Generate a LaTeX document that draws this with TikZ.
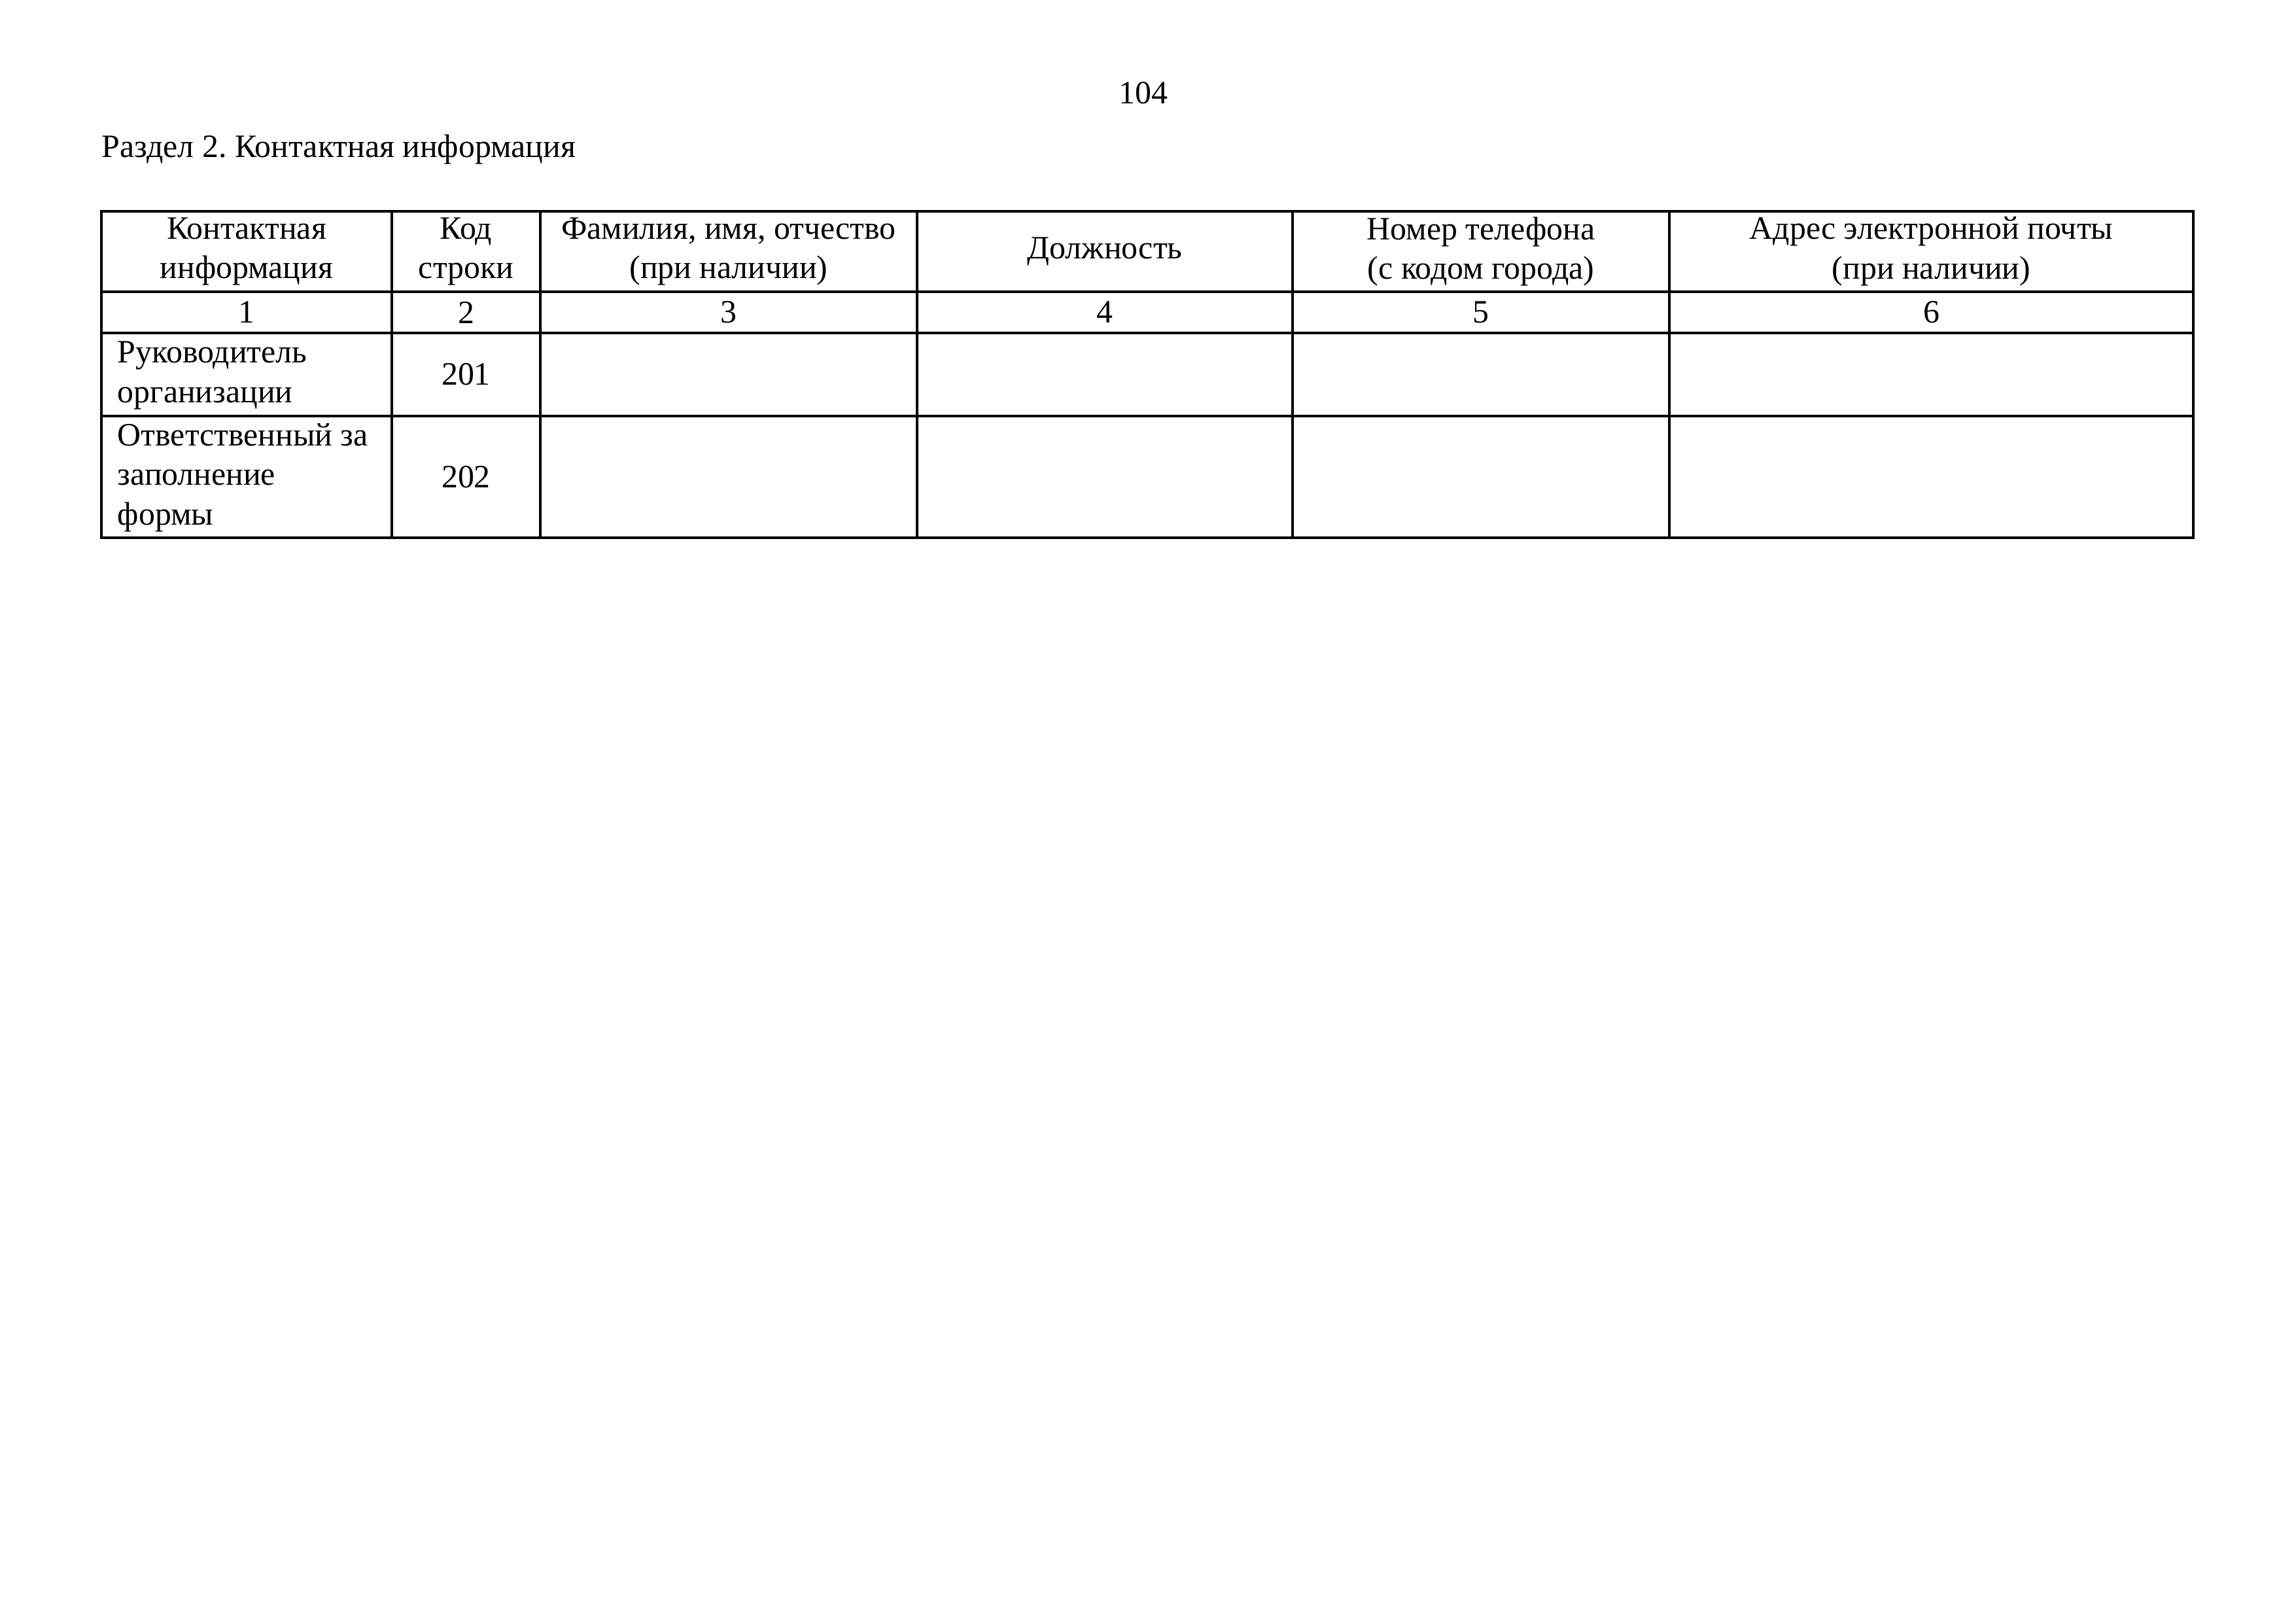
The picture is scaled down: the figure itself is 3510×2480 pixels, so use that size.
\documentclass[tikz,border=0pt]{standalone}
\usepackage{fontspec}
\setmainfont{Liberation Serif}
\frenchspacing
\tikzset{
	rule/.style={line width=0.8pt},
	txt/.style={inner sep=0pt, font=\fontsize{12pt}{14.6pt}\selectfont},
	head/.style={txt, align=center},
	rowname/.style={txt, align=left, anchor=west},
}

\begin{document}
\begin{tikzpicture}[x=0.084615mm, y=-0.084615mm]
	\useasboundingbox (0,0) rectangle (3510,2480);

	\node[txt, anchor=base] (page) at (1748,158) {104};
	\node[txt, anchor=base west] (title) at (155,240) {Раздел 2. Контактная информация};

	\draw[rule] (155,323) rectangle (3353,822);
	\draw[rule] (155,446) -- (3353,446);
	\draw[rule] (155,509) -- (3353,509);
	\draw[rule] (155,636) -- (3353,636);
	\foreach \x in {599,826,1402,1976,2552}
		\draw[rule] (\x,323) -- (\x,822);

	\node[head] (kontakt) at (377,384.5) {Контактная\\информация};
	\node[head] (kod) at (712.5,384.5) {Код\\строки};
	\node[head] (fio) at (1114,384.5) {Фамилия, имя, отчество\\(при наличии)};
	\node[head] (dolzh) at (1689,384.5) {Должность};
	\node[head] (tel) at (2264,384.5) {Номер телефона\\(с кодом города)};
	\node[head] (email) at (2952.5,384.5) {Адрес электронной почты\\(при наличии)};

	\node[head] (n1) at (377,477.5) {1};
	\node[head] (n2) at (712.5,477.5) {2};
	\node[head] (n3) at (1114,477.5) {3};
	\node[head] (n4) at (1689,477.5) {4};
	\node[head] (n5) at (2264,477.5) {5};
	\node[head] (n6) at (2952.5,477.5) {6};

	\node[rowname] (ruk) at (179,574) {Руководитель\\организации};
	\node[head] (k201) at (712.5,572.5) {201};
	\node[rowname] (otv) at (179,730) {Ответственный за\\заполнение\\формы};
	\node[head] (k202) at (712.5,729) {202};
\end{tikzpicture}
\end{document}
